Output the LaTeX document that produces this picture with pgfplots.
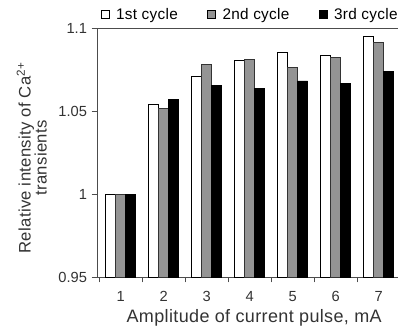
\documentclass[border=0pt]{standalone}
\usepackage{pgfplots}
\pgfplotsset{compat=1.18}
\usetikzlibrary{calc}
\usepackage{fontspec}
\setmainfont{Liberation Sans}
\begin{document}
\begin{tikzpicture}
\begin{axis}[
  scale only axis,
  width=225.75pt, height=186.75pt,
  xmin=0.45, xmax=7.45,
  ymin=0.95, ymax=1.1,
  ytick={0.95,1,1.05,1.1},
  yticklabels={0.95,1,1.05,1.1},
  xtick={1,2,3,4,5,6,7},
  minor xtick={0.5,1.5,2.5,3.5,4.5,5.5,6.5},
  major x tick style={draw=none},
  minor tick length=4pt,
  major tick length=4pt,
  tick align=outside,
  axis x line*=bottom,
  axis y line*=left,
  axis line style={-, black!70},
  tick style={black!70},
  /pgf/number format/assume math mode=true,
  ticklabel style={font=\fontsize{11}{12}\selectfont, text=black!80},
  xticklabel style={yshift=-3pt},
  ybar=0pt, bar width=7.5pt,
  xlabel={Amplitude of current pulse, mA},
  ylabel={\begin{tabular}{c}Relative intensity of Ca\textsuperscript{2+}\\[-1pt]transients\end{tabular}},
  label style={font=\fontsize{12.5}{13}\selectfont\addfontfeatures{LetterSpace=2}, text=black!80},
  xlabel style={yshift=1pt, xshift=5pt, font=\fontsize{13.5}{14}\selectfont\addfontfeatures{LetterSpace=2}},
  ylabel style={yshift=-2pt, xshift=-4pt},
  legend style={draw=none, fill=none, font=\fontsize{11.5}{12}\selectfont\addfontfeatures{LetterSpace=2}, at={(0.51,1.005)}, anchor=south, legend columns=3, /tikz/every even column/.append style={column sep=20pt}, /tikz/every odd column/.append style={column sep=3pt}},
  legend image code/.code={\draw[#1, draw=black] (0pt,-3pt) rectangle (6pt,3pt);},
  clip=true,
]
\addplot[draw=black, fill=white, line width=0.5pt] coordinates {(1,1.0) (2,1.054) (3,1.0707) (4,1.0807) (5,1.0854) (6,1.0833) (7,1.0948)};
\addplot[draw=black!80, fill=black!42, line width=0.5pt] coordinates {(1,1.0) (2,1.0517) (3,1.0781) (4,1.0813) (5,1.0761) (6,1.0821) (7,1.0912)};
\addplot[draw=black, fill=black, line width=0.5pt] coordinates {(1,1.0) (2,1.057) (3,1.0655) (4,1.0635) (5,1.0681) (6,1.0667) (7,1.0739)};
\legend{1st cycle, 2nd cycle, 3rd cycle}
\coordinate (sw) at (rel axis cs:0,0);
\coordinate (ne) at (rel axis cs:1,1);
\coordinate (nw) at (rel axis cs:0,1);
\end{axis}
\draw[black!70] (nw) -- (ne);
\pgfresetboundingbox
\path ($(sw)+(-72.75pt,-36pt)$) rectangle ($(ne)+(0pt,21pt)$);
\end{tikzpicture}
\end{document}
